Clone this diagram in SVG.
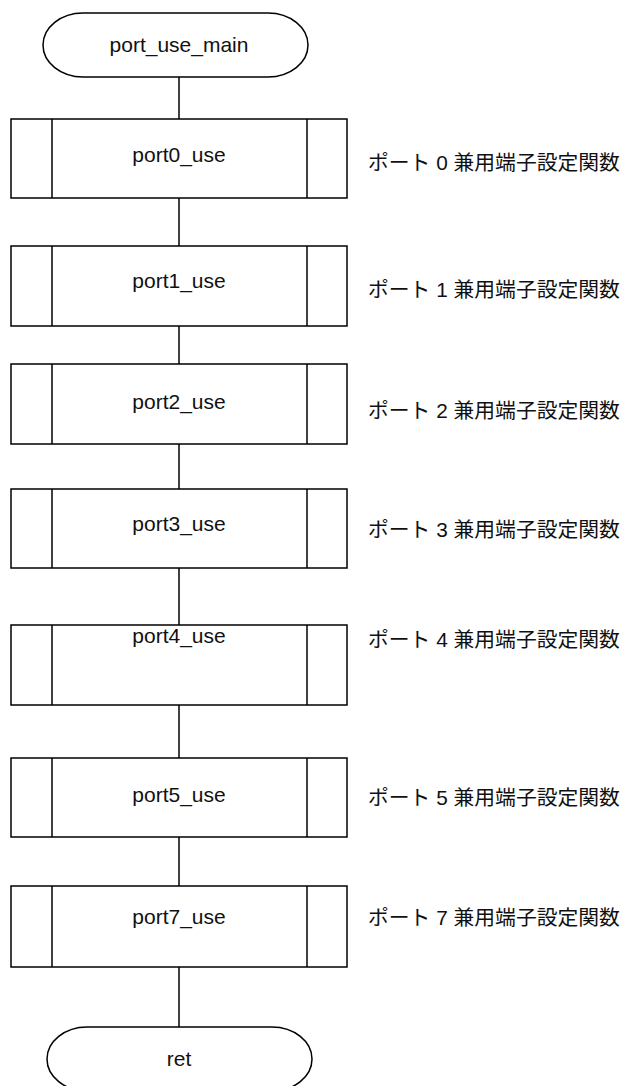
<svg xmlns="http://www.w3.org/2000/svg" width="626" height="1086" viewBox="0 0 626 1086">
<style>
.s{fill:#fff;stroke:#000;stroke-width:1.5}
.l{stroke:#000;stroke-width:1.5;fill:none}
.t{font-family:"Liberation Sans",Arial,sans-serif;font-size:21px;fill:#111;text-anchor:middle}
.j{font-family:"Liberation Sans","Noto Sans CJK JP",sans-serif;font-size:20.8px;fill:#111}
</style>
<rect width="626" height="1086" fill="#fff"/>
<g id="connectors" class="l">
<line x1="179" y1="77" x2="179" y2="119"/>
<line x1="179" y1="198" x2="179" y2="246"/>
<line x1="179" y1="326" x2="179" y2="364"/>
<line x1="179" y1="444" x2="179" y2="489"/>
<line x1="179" y1="568" x2="179" y2="625"/>
<line x1="179" y1="705" x2="179" y2="758"/>
<line x1="179" y1="837" x2="179" y2="886"/>
<line x1="179" y1="967" x2="179" y2="1027"/>
</g>
<g id="start">
<rect class="s" x="43" y="13" width="265" height="64" rx="40" ry="32"/>
<text class="t" x="179" y="52">port_use_main</text>
</g>
<g id="port0">
<rect class="s" x="11" y="119" width="336" height="79"/>
<line class="l" x1="52" y1="119" x2="52" y2="198"/><line class="l" x1="307" y1="119" x2="307" y2="198"/>
<text class="t" x="179" y="162">port0_use</text>
<text class="j" x="368" y="170">ポート 0 兼用端子設定関数</text>
</g>
<g id="port1">
<rect class="s" x="11" y="246" width="336" height="80"/>
<line class="l" x1="52" y1="246" x2="52" y2="326"/><line class="l" x1="307" y1="246" x2="307" y2="326"/>
<text class="t" x="179" y="288">port1_use</text>
<text class="j" x="368" y="297">ポート 1 兼用端子設定関数</text>
</g>
<g id="port2">
<rect class="s" x="11" y="364" width="336" height="80"/>
<line class="l" x1="52" y1="364" x2="52" y2="444"/><line class="l" x1="307" y1="364" x2="307" y2="444"/>
<text class="t" x="179" y="409">port2_use</text>
<text class="j" x="368" y="418">ポート 2 兼用端子設定関数</text>
</g>
<g id="port3">
<rect class="s" x="11" y="489" width="336" height="79"/>
<line class="l" x1="52" y1="489" x2="52" y2="568"/><line class="l" x1="307" y1="489" x2="307" y2="568"/>
<text class="t" x="179" y="531">port3_use</text>
<text class="j" x="368" y="537">ポート 3 兼用端子設定関数</text>
</g>
<g id="port4">
<rect class="s" x="11" y="625" width="336" height="80"/>
<line class="l" x1="52" y1="625" x2="52" y2="705"/><line class="l" x1="307" y1="625" x2="307" y2="705"/>
<text class="t" x="179" y="643">port4_use</text>
<text class="j" x="368" y="647">ポート 4 兼用端子設定関数</text>
</g>
<g id="port5">
<rect class="s" x="11" y="758" width="336" height="79"/>
<line class="l" x1="52" y1="758" x2="52" y2="837"/><line class="l" x1="307" y1="758" x2="307" y2="837"/>
<text class="t" x="179" y="802">port5_use</text>
<text class="j" x="368" y="805">ポート 5 兼用端子設定関数</text>
</g>
<g id="port7">
<rect class="s" x="11" y="886" width="336" height="81"/>
<line class="l" x1="52" y1="886" x2="52" y2="967"/><line class="l" x1="307" y1="886" x2="307" y2="967"/>
<text class="t" x="179" y="924">port7_use</text>
<text class="j" x="368" y="925">ポート 7 兼用端子設定関数</text>
</g>
<g id="ret">
<rect class="s" x="47" y="1027" width="265" height="64" rx="40" ry="32"/>
<text class="t" x="179" y="1066">ret</text>
</g>
</svg>
